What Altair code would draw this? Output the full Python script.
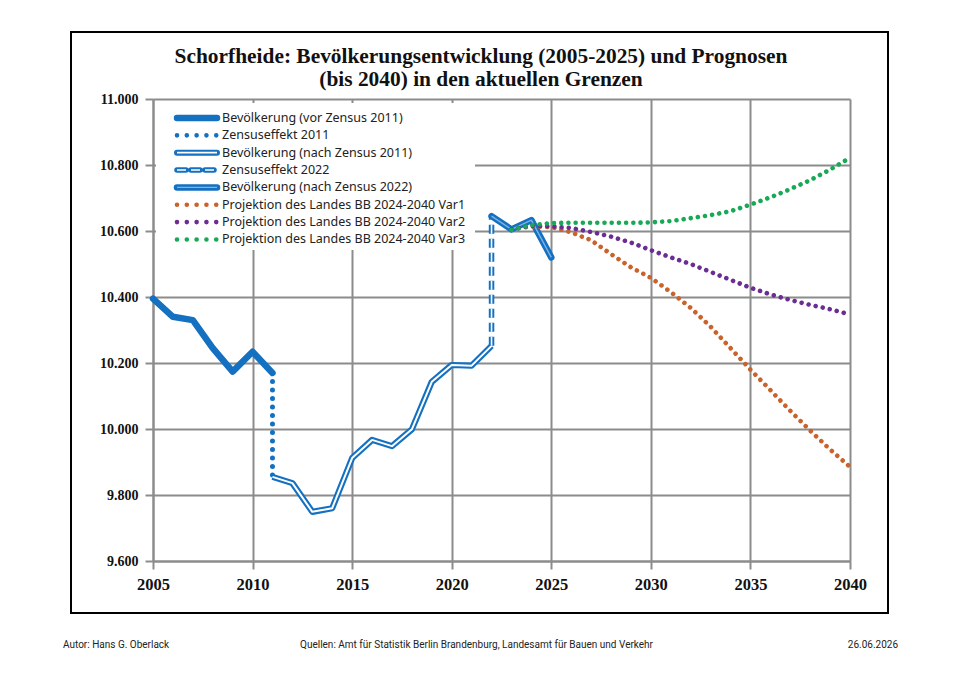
import altair as alt
import pandas as pd

# ---------------- data ----------------
years_pre = [2005, 2006, 2007, 2008, 2009, 2010, 2011]
pop_pre = [10395, 10340, 10330, 10245, 10174, 10234, 10170]

years_post11 = [2011, 2012, 2013, 2014, 2015, 2016, 2017, 2018, 2019, 2020, 2021, 2022]
pop_post11 = [9855, 9836, 9749, 9760, 9912, 9967, 9948, 9999, 10143, 10194, 10192, 10252]

years_post22 = [2022, 2023, 2024, 2025]
pop_post22 = [10645, 10605, 10633, 10520]

census11_years = [2011, 2011]
census11_vals = [10170, 9855]
census22_years = [2022, 2022]
census22_vals = [10252, 10645]

proj_years = list(range(2023, 2041))
var1 = [10605, 10614, 10612, 10596, 10572, 10530, 10490, 10458, 10415, 10367, 10310,
        10245, 10180, 10118, 10055, 9995, 9938, 9885]
var2 = [10605, 10616, 10614, 10609, 10597, 10583, 10565, 10542, 10520, 10500, 10476,
        10452, 10428, 10408, 10391, 10376, 10363, 10347]
var3 = [10603, 10618, 10624, 10625, 10625, 10625, 10625, 10626, 10630, 10639, 10648,
        10660, 10680, 10702, 10727, 10754, 10786, 10822]

legend_labels = [
    "Bevölkerung  (vor Zensus 2011)",
    "Zensuseffekt 2011",
    "Bevölkerung  (nach Zensus 2011)",
    "Zensuseffekt 2022",
    "Bevölkerung  (nach Zensus 2022)",
    "Projektion des Landes BB 2024-2040 Var1",
    "Projektion des Landes BB 2024-2040 Var2",
    "Projektion des Landes BB 2024-2040 Var3",
]

title_lines = [
    "Schorfheide:  Bevölkerungsentwicklung (2005-2025) und Prognosen",
    "(bis 2040) in den aktuellen Grenzen",
]
footer_author = "Autor: Hans G. Oberlack"
footer_source = "Quellen: Amt für Statistik Berlin Brandenburg, Landesamt für Bauen und Verkehr"
footer_date = "26.06.2026"

x_ticks = [2005, 2010, 2015, 2020, 2025, 2030, 2035, 2040]
y_ticks = [9600, 9800, 10000, 10200, 10400, 10600, 10800, 11000]

# ---------------- styles ----------------
BLUE = "#1470c0"
ORANGE = "#c9622b"
PURPLE = "#6b2c93"
GREEN = "#17a955"
GRID = "#8c8c8c"
SERIF = "Liberation Serif"
SANS = "Noto Sans"
FOOT = "Roboto"

W, H = 697, 462

xs = alt.Scale(domain=[2005, 2040], nice=False, zero=False)
ys = alt.Scale(domain=[9600, 11000], nice=False, zero=False)

AX = alt.Axis(
    values=x_ticks, format="d", title=None, grid=True, gridColor=GRID, gridWidth=2,
    domainColor=GRID, domainWidth=2, tickColor=GRID, tickWidth=2, tickSize=8,
    labelFont=SERIF, labelFontSize=16.5, labelFontWeight="bold", labelColor="#111",
    labelPadding=7, labelFlush=False)
AY = alt.Axis(
    values=y_ticks, title=None, grid=True, gridColor=GRID, gridWidth=2,
    domainColor=GRID, domainWidth=2, tickColor=GRID, tickWidth=2, tickSize=8,
    labelExpr="replace(format(datum.value, ',d'), ',', '.')",
    labelFont=SERIF, labelFontSize=14, labelFontWeight="bold", labelColor="#111",
    labelPadding=7, labelFlush=False)


def frame(years, vals):
    return pd.DataFrame({"year": years, "value": vals})


def line(df, **mark):
    return alt.Chart(df).mark_line(strokeJoin="round", **mark).encode(
        x=alt.X("year:Q", scale=xs, axis=AX),
        y=alt.Y("value:Q", scale=ys, axis=AY),
        order="i:Q",
    ).transform_window(i="row_number()")


# axis + grid layer
axes = alt.Chart(frame([2005, 2040], [9600, 11000])).mark_point(opacity=0).encode(
    x=alt.X("year:Q", scale=xs, axis=AX),
    y=alt.Y("value:Q", scale=ys, axis=AY),
)

# page frame
page = alt.Chart(pd.DataFrame({"a": [0]})).mark_rect(
    fill=None, stroke="#000", strokeWidth=2
).encode(x=alt.value(-82), x2=alt.value(735), y=alt.value(-67), y2=alt.value(514))

# legend background
legend_bg = alt.Chart(pd.DataFrame({"a": [0]})).mark_rect(
    fill="white", stroke=None
).encode(x=alt.value(3), x2=alt.value(322), y=alt.value(4), y2=alt.value(151))

# data lines
DOT = dict(strokeWidth=4.6, strokeDash=[0.01, 7.2], strokeCap="round")
pre = line(frame(years_pre, pop_pre), color=BLUE, strokeWidth=6.5, strokeCap="round")
c11 = line(frame(census11_years, census11_vals), color=BLUE, strokeWidth=5,
           strokeDash=[0.01, 8.5], strokeCap="round")
post11_o = line(frame(years_post11, pop_post11), color=BLUE, strokeWidth=6.2, strokeCap="butt")
post11_i = line(frame(years_post11, pop_post11), color="white", strokeWidth=2)
c22_o = line(frame(census22_years, census22_vals), color=BLUE, strokeWidth=5.5,
             strokeDash=[9, 5])
c22_i = line(frame(census22_years, census22_vals), color="white", strokeWidth=1.6,
             strokeDash=[9, 5])
post22_o = line(frame(years_post22, pop_post22), color=BLUE, strokeWidth=6.5, strokeCap="round")
post22_i = line(frame(years_post22, pop_post22), color="#7fb2e5", strokeWidth=1.4)

p1 = line(frame(proj_years, var1), color=ORANGE, **DOT)
p2 = line(frame(proj_years, var2), color=PURPLE, **DOT)
p3 = line(frame(proj_years, var3), color=GREEN, **DOT)

# legend
ldf = pd.DataFrame({"label": legend_labels, "i": list(range(len(legend_labels)))})
ldf["ypix"] = 19 + ldf["i"] * 17.35
LX1, LX2 = 24, 64


def leg_rule(i, **mark):
    return alt.Chart(ldf).transform_filter(f"datum.i == {i}").mark_rule(**mark).encode(
        x=alt.value(LX1), x2=alt.value(LX2), y=alt.Y("ypix:Q", scale=None))


legend_text = alt.Chart(ldf).mark_text(
    align="left", baseline="middle", font=SANS, fontSize=12.5, color="#222"
).encode(x=alt.value(69), y=alt.Y("ypix:Q", scale=None), text="label:N")

LDOT = dict(strokeWidth=4.6, strokeDash=[0.01, 9.8], strokeCap="round")
legend_layers = [
    leg_rule(0, color=BLUE, strokeWidth=6.5, strokeCap="round"),
    leg_rule(1, color=BLUE, strokeWidth=4.6, strokeDash=[0.01, 9.8], strokeCap="round"),
    leg_rule(2, color=BLUE, strokeWidth=6, strokeCap="round"),
    leg_rule(2, color="white", strokeWidth=1.8),
    leg_rule(3, color=BLUE, strokeWidth=5.5, strokeDash=[9, 5], strokeCap="round"),
    leg_rule(3, color="white", strokeWidth=1.6, strokeDash=[9, 5]),
    leg_rule(4, color=BLUE, strokeWidth=6.5, strokeCap="round"),
    leg_rule(4, color="#7fb2e5", strokeWidth=1.4),
    leg_rule(5, color=ORANGE, **LDOT),
    leg_rule(6, color=PURPLE, **LDOT),
    leg_rule(7, color=GREEN, **LDOT),
    legend_text,
]

# title
tdf = pd.DataFrame({"t": title_lines, "ypix": [-42, -19]})
title = alt.Chart(tdf).mark_text(
    align="center", baseline="middle", font=SERIF, fontSize=21.4, fontWeight="bold", color="#111"
).encode(x=alt.value(328), y=alt.Y("ypix:Q", scale=None), text="t:N")

# footer
fdf = pd.DataFrame({"t": [footer_author, footer_source, footer_date],
                    "xpix": [-90, 147, 745]})
foot_l = alt.Chart(fdf.iloc[:2]).mark_text(
    align="left", baseline="middle", font=FOOT, fontSize=10, color="#222"
).encode(x=alt.X("xpix:Q", scale=None), y=alt.value(546), text="t:N")
foot_r = alt.Chart(fdf.iloc[2:]).mark_text(
    align="right", baseline="middle", font=FOOT, fontSize=10, color="#222"
).encode(x=alt.X("xpix:Q", scale=None), y=alt.value(546), text="t:N")

chart = alt.layer(
    axes, page, legend_bg,
    pre, c11, post11_o, post11_i, c22_o, c22_i, post22_o, post22_i,
    p1, p2, p3,
    *legend_layers, title, foot_l, foot_r,
).properties(
    width=W, height=H,
    autosize=alt.AutoSizeParams(type="none"),
    padding={"left": 153, "top": 99, "right": 110, "bottom": 118},
    background="white",
).configure_view(stroke=None)

chart.save("out.html", embed_options={"renderer": "svg", "actions": False})
